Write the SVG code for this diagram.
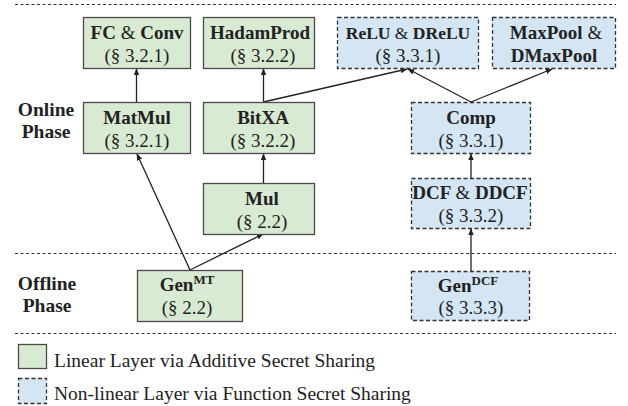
<svg xmlns="http://www.w3.org/2000/svg" width="628" height="406" viewBox="0 0 628 406">
<style>
.bg{fill:#ffffff}
.lin{fill:#d9ead3;stroke:#4a4a4a;stroke-width:1.3}
.nl{fill:#d4e5f3;stroke:#333333;stroke-width:1.3;stroke-dasharray:4 2.5}
.sep{stroke:#333333;stroke-width:1;stroke-dasharray:3 2.5;fill:none}
.t{font-family:"Liberation Serif","Times New Roman",serif;font-size:19px;fill:#222222;text-anchor:middle}
.b{font-weight:bold}
.r{font-weight:normal}
.sm{font-size:17.5px}
.sup{font-size:13px}
.ph{font-family:"Liberation Serif","Times New Roman",serif;font-size:19.5px;font-weight:bold;fill:#222222;text-anchor:middle}
.lg{font-family:"Liberation Serif","Times New Roman",serif;font-size:19.5px;fill:#222222}
.c{stroke:#222222;stroke-width:1.3;fill:none;marker-end:url(#ah)}
</style>
<defs>
<marker id="ah" viewBox="0 0 10 10" refX="9" refY="5" markerWidth="7" markerHeight="7" markerUnits="userSpaceOnUse" orient="auto">
<path d="M0,1 L10,5 L0,9 z" fill="#222222"/>
</marker>
</defs>
<rect class="bg" x="0" y="0" width="628" height="406"/>
<g id="separators">
<line class="sep" x1="15" y1="4.5" x2="616" y2="4.5"/>
<line class="sep" x1="15" y1="253.5" x2="616" y2="253.5"/>
<line class="sep" x1="15" y1="333.5" x2="616" y2="333.5"/>
</g>
<g id="phase-labels">
<text class="ph" x="46" y="116">Online</text>
<text class="ph" x="46" y="138">Phase</text>
<text class="ph" x="47" y="290">Offline</text>
<text class="ph" x="47" y="312">Phase</text>
</g>
<g id="connectors">
<line class="c" x1="136.5" y1="102" x2="136.5" y2="69"/>
<line class="c" x1="263.5" y1="102" x2="263.5" y2="69"/>
<line class="c" x1="263.5" y1="102" x2="407" y2="69"/>
<line class="c" x1="471" y1="102" x2="408" y2="69"/>
<line class="c" x1="471" y1="102" x2="552" y2="69"/>
<line class="c" x1="263.5" y1="183" x2="263.5" y2="154"/>
<line class="c" x1="190" y1="270" x2="137" y2="154"/>
<line class="c" x1="190" y1="270" x2="263" y2="234"/>
<line class="c" x1="471" y1="178" x2="471" y2="154"/>
<line class="c" x1="471" y1="271" x2="471" y2="229"/>
</g>
<g id="fc-conv">
<rect class="lin" x="83.5" y="17.5" width="107" height="51"/>
<text class="t b" x="137" y="39">FC <tspan class="r">&amp;</tspan> Conv</text>
<text class="t" x="137" y="62">(§ 3.2.1)</text>
</g>
<g id="hadamprod">
<rect class="lin" x="203.5" y="17.5" width="111" height="51"/>
<text class="t b" x="260" y="39">HadamProd</text>
<text class="t" x="263" y="62">(§ 3.2.2)</text>
</g>
<g id="relu-drelu">
<rect class="nl" x="337.5" y="17.5" width="141" height="51"/>
<text class="t b sm" x="408" y="39">ReLU <tspan class="r">&amp;</tspan> DReLU</text>
<text class="t" x="408" y="62">(§ 3.3.1)</text>
</g>
<g id="maxpool-dmaxpool">
<rect class="nl" x="492.5" y="17.5" width="123" height="51"/>
<text class="t b" x="556" y="39">MaxPool <tspan class="r">&amp;</tspan></text>
<text class="t b" x="554" y="62">DMaxPool</text>
</g>
<g id="matmul">
<rect class="lin" x="83.5" y="102.5" width="107" height="51"/>
<text class="t b" x="137" y="124">MatMul</text>
<text class="t" x="137" y="147">(§ 3.2.1)</text>
</g>
<g id="bitxa">
<rect class="lin" x="203.5" y="102.5" width="111" height="51"/>
<text class="t b" x="263" y="124">BitXA</text>
<text class="t" x="263" y="147">(§ 3.2.2)</text>
</g>
<g id="comp">
<rect class="nl" x="411.5" y="102.5" width="119" height="51"/>
<text class="t b" x="471" y="124">Comp</text>
<text class="t" x="471" y="147">(§ 3.3.1)</text>
</g>
<g id="mul">
<rect class="lin" x="203.5" y="183.5" width="111" height="51"/>
<text class="t b" x="262" y="205">Mul</text>
<text class="t" x="262" y="228">(§ 2.2)</text>
</g>
<g id="dcf-ddcf">
<rect class="nl" x="411.5" y="178.5" width="119" height="50"/>
<text class="t b" x="470" y="199">DCF <tspan class="r">&amp;</tspan> DDCF</text>
<text class="t" x="471" y="222">(§ 3.3.2)</text>
</g>
<g id="gen-mt">
<rect class="lin" x="137.5" y="270.5" width="105" height="51"/>
<text class="t b" x="187" y="291">Gen<tspan class="sup" dy="-7">MT</tspan></text>
<text class="t" x="187" y="314">(§ 2.2)</text>
</g>
<g id="gen-dcf">
<rect class="nl" x="411.5" y="271.5" width="118" height="49"/>
<text class="t b" x="468" y="292">Gen<tspan class="sup" dy="-7">DCF</tspan></text>
<text class="t" x="471" y="314">(§ 3.3.3)</text>
</g>
<g id="legend">
<rect class="lin" x="18.5" y="344.5" width="28" height="24"/>
<text class="lg" x="54" y="366.5">Linear Layer via Additive Secret Sharing</text>
<rect class="nl" x="18.5" y="378.5" width="28" height="25"/>
<text class="lg" x="54" y="400">Non-linear Layer via Function Secret Sharing</text>
</g>
</svg>
